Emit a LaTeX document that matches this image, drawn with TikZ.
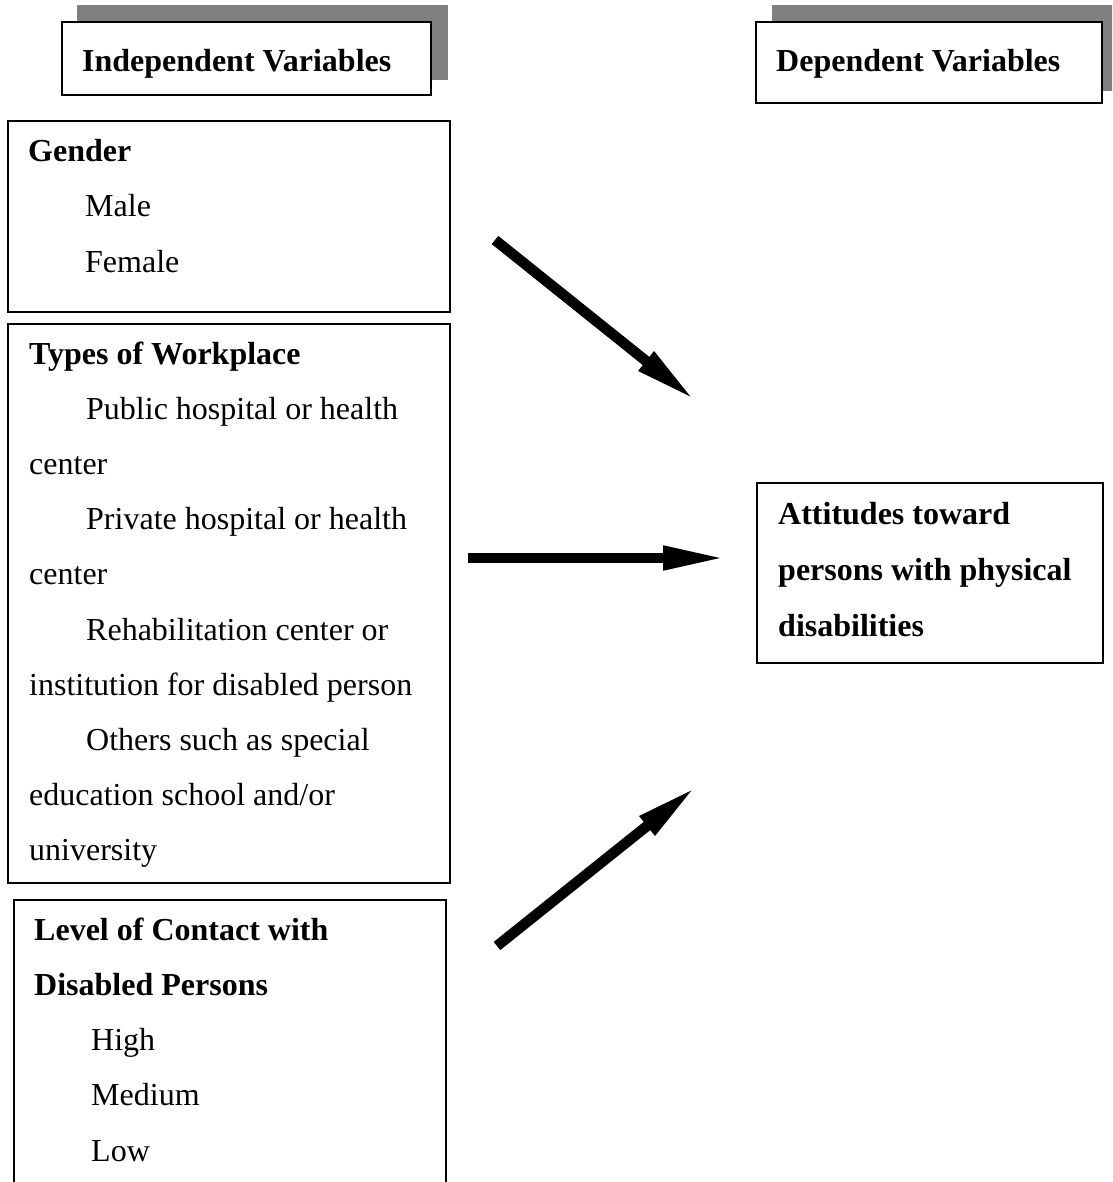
\documentclass[tikz,border=0pt]{standalone}
\usepackage{fontspec}
\setmainfont{Liberation Serif}
\usetikzlibrary{arrows.meta,fit}
\tikzset{
  box/.style={draw=black, line width=1.7pt, fill=white, inner sep=0pt},
  shadowbox/.style={fill=black!50, draw=none, inner sep=0pt},
  txt/.style={anchor=base west, inner sep=0pt, font=\fontsize{32}{32}\selectfont},
  hd/.style={txt, font=\fontsize{32}{32}\selectfont\bfseries},
  bigarrow/.style={line width=10.5pt, line cap=butt, -{Triangle[length=64pt,width=22pt]}}
}
\begin{document}
\begin{tikzpicture}[x=1pt,y=-1pt]
\useasboundingbox (0,0) rectangle (1112,1182);
\clip (0,0) rectangle (1112,1182);
\fill[white] (0,0) rectangle (1112,1182);

% header: independent
\node (ishadow) [shadowbox, fit={(77,5) (448,80)}] {};
\node (ibox) [box, fit={(62,22) (431,95)}] {};
\node (ilabel) [hd] at (82,72) {Independent Variables};

% header: dependent
\node (dshadow) [shadowbox, fit={(772,5) (1140,91)}] {};
\node (dbox) [box, fit={(756,22) (1102,103)}] {};
\node (dlabel) [hd] at (776,72) {Dependent Variables};

% gender
\node (gbox) [box, fit={(8,121) (450,312)}] {};
\node (g0) [hd] at (28,162) {Gender};
\node (g1) [txt] at (85,217) {Male};
\node (g2) [txt] at (85,272) {Female};

% workplace
\node (wbox) [box, fit={(8,324) (450,883)}] {};
\node (w0) [hd] at (29,364) {Types of Workplace};
\node (w1) [txt] at (86,419.2) {Public hospital or health};
\node (w2) [txt] at (29,474.4) {center};
\node (w3) [txt] at (86,529.6) {Private hospital or health};
\node (w4) [txt] at (29,584.8) {center};
\node (w5) [txt] at (86,640) {Rehabilitation center or};
\node (w6) [txt] at (29,695.2) {institution for disabled person};
\node (w7) [txt] at (86,750.4) {Others such as special};
\node (w8) [txt] at (29,805.6) {education school and/or};
\node (w9) [txt] at (29,860.8) {university};

% level of contact
\node (lbox) [box, fit={(14,900) (446,1200)}] {};
\node (l0) [hd] at (34,940) {Level of Contact with};
\node (l1) [hd] at (34,995) {Disabled Persons};
\node (l2) [txt] at (91,1050) {High};
\node (l3) [txt] at (91,1105.5) {Medium};
\node (l4) [txt] at (91,1161) {Low};

% attitudes
\node (abox) [box, fit={(757,483) (1103,663)}] {};
\node (a0) [hd] at (778,524) {Attitudes toward};
\node (a1) [hd] at (778,580) {persons with physical};
\node (a2) [hd] at (778,636) {disabilities};

% arrows
\coordinate (ar1s) at (495,240);
\coordinate (ar1e) at (696,401);
\coordinate (ar2s) at (468,558);
\coordinate (ar2e) at (727,558);
\coordinate (ar3s) at (497,946);
\coordinate (ar3e) at (697,786);
\draw[bigarrow] (ar1s) -- (ar1e);
\draw[bigarrow] (ar2s) -- (ar2e);
\draw[bigarrow] (ar3s) -- (ar3e);
\end{tikzpicture}
\end{document}
